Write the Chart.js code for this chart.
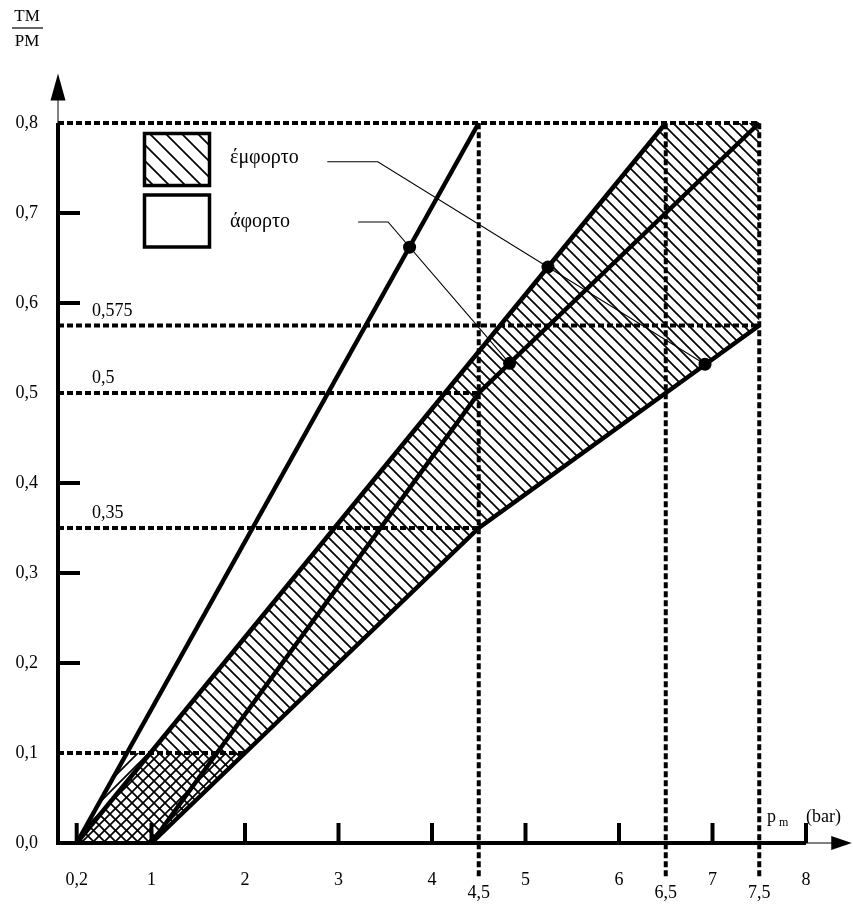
<!DOCTYPE html>
<html>
<head>
<meta charset="utf-8">
<script src="https://cdn.jsdelivr.net/npm/chart.js@4/dist/chart.umd.min.js"></script>
<style>
html,body{margin:0;padding:0;background:#fff;}
#c{display:block;}
</style>
</head>
<body>
<canvas id="c" width="853" height="904"></canvas>
<script>
// ---- data ----
const X_TICKS = [0.2, 1, 2, 3, 4, 5, 6, 7, 8];
const X_TICK_LABELS = ['0,2', '1', '2', '3', '4', '5', '6', '7', '8'];
const X_MARKS = [4.5, 6.5, 7.5];
const X_MARK_LABELS = ['4,5', '6,5', '7,5'];
const Y_TICKS = [0, 0.1, 0.2, 0.3, 0.4, 0.5, 0.6, 0.7, 0.8];
const Y_TICK_LABELS = ['0,0', '0,1', '0,2', '0,3', '0,4', '0,5', '0,6', '0,7', '0,8'];
const Y_TICK_MARKS = [0.2, 0.3, 0.4, 0.6, 0.7];
const Y_MARKS = [0.575, 0.5, 0.35];
const Y_MARK_LABELS = ['0,575', '0,5', '0,35'];

// boundary lines [x, y]
const LINE_A = [[0.2, 0], [4.5, 0.8]];
const LINE_B = [[0.2, 0], [6.5, 0.8]];
const LINE_C = [[1, 0], [4.5, 0.5], [7.5, 0.8]];
const LINE_D = [[1, 0], [4.5, 0.35], [7.5, 0.575]];

// hatched regions
const LOADED_AREA = [[0.2, 0], [6.5, 0.8], [7.5, 0.8], [7.5, 0.575], [4.5, 0.35], [1, 0], [0.2, 0]];
const IDLE_AREA = [[0.2, 0], [0.74, 0.1], [2, 0.1], [1, 0], [0.2, 0]];

// dashed guides: horizontal [y, xEnd], vertical [x, yEnd]
const H_GUIDES = [[0.8, 7.5], [0.575, 7.5], [0.5, 4.5], [0.35, 4.5], [0.1, 2]];
const V_GUIDES = [[4.5, 0.8], [6.5, 0.8], [7.5, 0.8]];

// marked points
const DOTS_X = [3.76, 5.24, 4.83, 6.92];
const DOTS_Y = [0.662, 0.640, 0.533, 0.532];

// leader lines
const LEADER_LOADED = [[2.88, 0.757], [3.42, 0.757], [6.92, 0.532]];
const LEADER_IDLE = [[3.21, 0.69], [3.53, 0.69], [4.83, 0.533]];

const LEGEND_LABELS = ['έμφορτο', 'άφορτο'];

// ---- helpers ----
const pts = a => a.map(p => ({x: p[0], y: p[1]}));
const canvas = document.getElementById('c');
const ctx0 = canvas.getContext('2d');
function makePattern(dir, size, lw) {
  const t = document.createElement('canvas');
  t.width = size; t.height = size;
  const g = t.getContext('2d');
  g.strokeStyle = '#000'; g.lineWidth = lw;
  g.beginPath();
  if (dir === 'back') {
    g.moveTo(-2, -2); g.lineTo(size + 2, size + 2);
    g.moveTo(-2, size - 2); g.lineTo(2, size + 2);
    g.moveTo(size - 2, -2); g.lineTo(size + 2, 2);
  } else {
    g.moveTo(-2, size + 2); g.lineTo(size + 2, -2);
    g.moveTo(-2, 2); g.lineTo(2, -2);
    g.moveTo(size - 2, size + 2); g.lineTo(size + 2, size - 2);
  }
  g.stroke();
  return ctx0.createPattern(t, 'repeat');
}
const hatchBack = makePattern('back', 11, 1.7);
const hatchFwd = makePattern('fwd', 11, 1.7);
const hatchLegend = makePattern('back', 16, 1.7);

const FONT = '"Liberation Serif", "DejaVu Serif", serif';
const datasets = [];
datasets.push({data: pts(LOADED_AREA), fill: 'shape', backgroundColor: hatchBack, borderWidth: 0, pointRadius: 0, order: 30});
datasets.push({data: pts(IDLE_AREA), fill: 'shape', backgroundColor: hatchFwd, borderWidth: 0, pointRadius: 0, order: 29});
H_GUIDES.forEach(g => datasets.push({data: [{x: 0, y: g[0]}, {x: g[1], y: g[0]}], borderColor: '#000', borderWidth: 4, borderDash: [6, 3], pointRadius: 0, fill: false, order: 10}));
V_GUIDES.forEach(g => datasets.push({data: [{x: g[0], y: -0.037}, {x: g[0], y: g[1]}], borderColor: '#000', borderWidth: 4, borderDash: [6, 3], pointRadius: 0, fill: false, order: 10}));
[LINE_A, LINE_B, LINE_C, LINE_D].forEach(l => datasets.push({data: pts(l), borderColor: '#000', borderWidth: 4.5, pointRadius: 0, fill: false, order: 3}));
[LEADER_LOADED, LEADER_IDLE].forEach(l => datasets.push({data: pts(l), borderColor: '#000', borderWidth: 1.1, pointRadius: 0, fill: false, order: 2}));
datasets.push({data: DOTS_X.map((x, i) => ({x, y: DOTS_Y[i]})), showLine: false, pointRadius: 6.5, pointBackgroundColor: '#000', pointBorderWidth: 0, order: 1});

const decor = {
  id: 'decor',
  afterDatasetsDraw(chart) {
    const c = chart.ctx, xs = chart.scales.x, ys = chart.scales.y;
    const X = v => xs.getPixelForValue(v), Y = v => ys.getPixelForValue(v);
    c.save();
    c.strokeStyle = '#000'; c.fillStyle = '#000';
    // axes
    c.lineWidth = 4; c.lineCap = 'butt';
    c.beginPath(); c.moveTo(X(0), Y(0) + 2); c.lineTo(X(0), Y(0.8)); c.stroke();
    c.beginPath(); c.moveTo(X(0) - 2, Y(0)); c.lineTo(X(8), Y(0)); c.stroke();
    c.lineWidth = 1;
    c.beginPath(); c.moveTo(X(0), Y(0.8)); c.lineTo(X(0), Y(0.83)); c.stroke();
    c.beginPath(); c.moveTo(X(8), Y(0)); c.lineTo(X(8.3), Y(0)); c.stroke();
    // arrows
    c.beginPath(); c.moveTo(X(0), Y(0.855)); c.lineTo(X(0) - 7.5, Y(0.825)); c.lineTo(X(0) + 7.5, Y(0.825)); c.closePath(); c.fill();
    c.beginPath(); c.moveTo(X(8.49), Y(0)); c.lineTo(X(8.27), Y(0) - 7); c.lineTo(X(8.27), Y(0) + 7); c.closePath(); c.fill();
    // tick marks
    c.lineWidth = 4;
    Y_TICK_MARKS.forEach(v => { c.beginPath(); c.moveTo(X(0), Y(v)); c.lineTo(X(0) + 22, Y(v)); c.stroke(); });
    X_TICKS.forEach(v => { c.beginPath(); c.moveTo(X(v), Y(0)); c.lineTo(X(v), Y(0) - 20); c.stroke(); });
    // tick labels
    c.font = '18px ' + FONT;
    c.textAlign = 'right'; c.textBaseline = 'middle';
    Y_TICKS.forEach((v, i) => c.fillText(Y_TICK_LABELS[i], 38, Y(v)));
    c.textAlign = 'center';
    X_TICKS.forEach((v, i) => c.fillText(X_TICK_LABELS[i], X(v), Y(0) + 37));
    X_MARKS.forEach((v, i) => c.fillText(X_MARK_LABELS[i], X(v), Y(0) + 50));
    c.textAlign = 'left'; c.textBaseline = 'alphabetic';
    Y_MARKS.forEach((v, i) => c.fillText(Y_MARK_LABELS[i], 92, Y(v) - 10));
    // axis titles
    c.font = '17px ' + FONT; c.textAlign = 'center';
    c.fillText('ΤΜ', 27, 21);
    c.lineWidth = 1.2; c.beginPath(); c.moveTo(12, 28); c.lineTo(43, 28); c.stroke();
    c.fillText('ΡΜ', 27, 46);
    c.textAlign = 'left';
    c.font = '18px ' + FONT; c.fillText('p', 767, 822);
    c.font = '12px ' + FONT; c.fillText('m', 779, 826);
    c.font = '18px ' + FONT; c.fillText('(bar)', 806, 822);
    // legend
    c.fillStyle = hatchLegend; c.fillRect(143, 132, 68, 55);
    c.fillStyle = '#000';
    c.lineWidth = 3.5;
    c.strokeRect(144.5, 133.5, 65, 52);
    c.strokeRect(144.5, 195, 65, 52);
    c.font = '20px ' + FONT;
    c.fillText(LEGEND_LABELS[0], 230, 163);
    c.fillText(LEGEND_LABELS[1], 230, 227);
    c.restore();
  }
};

new Chart(canvas, {
  type: 'line',
  data: {datasets},
  options: {
    responsive: false,
    devicePixelRatio: 1,
    animation: false,
    layout: {padding: {left: 58, right: 47, top: 123, bottom: 61}},
    scales: {
      x: {type: 'linear', min: 0, max: 8, display: false},
      y: {type: 'linear', min: 0, max: 0.8, display: false}
    },
    plugins: {legend: {display: false}, tooltip: {enabled: false}},
    elements: {line: {tension: 0, borderJoinStyle: 'miter'}},
    datasets: {line: {clip: false}}
  },
  plugins: [decor]
});
</script>
</body>
</html>
